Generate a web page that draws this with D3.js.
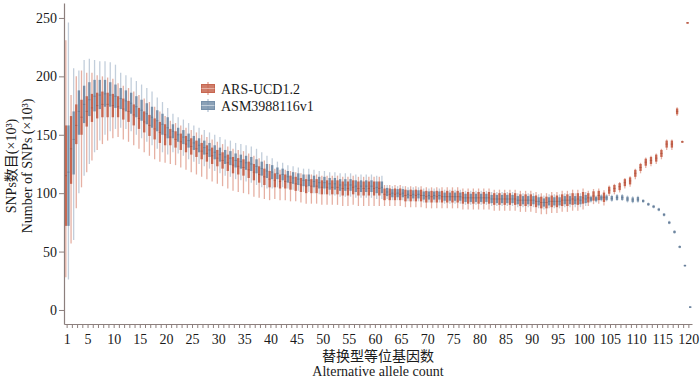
<!DOCTYPE html>
<html>
<head>
<meta charset="utf-8">
<script src="https://cdn.jsdelivr.net/npm/d3@7"></script>
<style>
  body { margin: 0; background: #fff; }
  text { font-family: "Liberation Serif", "Times New Roman", "Noto Sans CJK SC", serif; }
</style>
</head>
<body>
<svg id="chart" width="700" height="381"></svg>
<script>
// alternative allele count 1..120
const categories = d3.range(1, 121);
const xTickLabels = [1, 5, 10, 15, 20, 25, 30, 35, 40, 45, 50, 55, 60, 65, 70, 75, 80, 85, 90, 95, 100, 105, 110, 115, 120];
const yTicks = [0, 50, 100, 150, 200, 250];
const seriesNames = ["ARS-UCD1.2", "ASM3988116v1"];

// ARS-UCD1.2 (x10^3 SNPs): whisker low, Q1, median, Q3, whisker high
const arsLo = [28,57,87,105,118,128,137,142,145,147,
  148,146,144,141,138,135,132,129,127,126,
  125,124,122,120,118,116,114,112,110,108,
  106,104,102,101,100,99,97,96,95,94,
  95,94,94,93,93,92,91,91,91,90,
  90,90,90,89,89,90,89,89,89,89,
  89,89,89,89,89,88,88,88,88,87,
  87,87,87,87,87,87,86,86,86,86,
  86,86,85,85,85,85,85,84,84,84,
  83,82,82,83,83,84,84,85,85,86,
  89,90.6,91,89.5,97.5,99,100.6,104,105.5,112,
  117,121.5,123,125,129,137,137,166,143,245.5];
const arsQ1 = [72,108,142,150,157,161,164,165,165,165,
  165,163,161,158,155,152,149,146,143,141,
  141,139,137,135,133,131,129,127,125,123,
  121,119,117,116,115,113,111,109,107,105,
  105,104,104,103,102,101,100,100,100,99,
  99,99,99,98,98,99,98,98,98,98,
  98,94,94,94,94,93,93,93,93,92,
  92,92,92,92,92,92,91,91,91,91,
  91,91,90,90,90,90,90,89,89,89,
  88,87,87,88,88,89,89,90,90,91,
  92,93.6,94,92.5,99.5,101,102.6,106,107.5,114,
  119,123.5,125,127,131,139,139,167.5,143.5,245.7];
const arsMed = [115,138,158,165,170,173,175,176,176,175,
  174,172,170,167,164,161,158,155,152,150,
  148,146,144,142,140,138,136,134,132,130,
  128,126,124,123,122,120,118,116,114,112,
  111,110,110,109,108,107,106,106,106,105,
  105,105,105,104,104,105,104,104,104,104,
  104,99,99,99,99,98,98,98,98,97,
  97,97,97,97,97,97,96,96,96,96,
  96,96,95,95,95,95,95,94,94,94,
  93,92,92,93,93,94,94,95,95,96,
  96,97.6,98,96.5,102.5,104,105.6,109,110.5,117,
  122,126.5,128,130,134,142,142,170,144,246];
const arsQ3 = [158,166,176,180,183,185,186,187,186,185,
  183,181,179,176,173,170,167,164,161,159,
  155,153,151,149,147,145,143,141,139,137,
  135,133,131,130,129,127,125,123,121,119,
  117,116,116,115,114,113,112,112,112,111,
  111,111,111,110,110,111,110,110,110,110,
  110,104,104,104,104,103,103,103,103,102,
  102,102,102,102,102,102,101,101,101,101,
  101,101,100,100,100,100,100,99,99,99,
  98,97,97,98,98,99,99,100,100,101,
  100,101.6,102,100.5,105.5,107,108.6,112,113.5,120,
  125,129.5,131,133,137,145,145,172.5,144.5,246.3];
const arsHi = [231,184,200,205,203,203,201,200,199,198,
  194,192,190,187,184,181,178,174,170,166,
  162,160,158,156,154,152,150,148,146,144,
  142,140,138,137,136,134,132,130,128,125,
  121,120,120,119,118,117,116,116,116,115,
  115,115,115,114,114,115,114,114,114,114,
  114,107,107,107,107,106,106,106,106,105,
  105,105,105,105,105,105,104,104,104,104,
  104,104,103,103,103,103,103,102,102,102,
  101,100,100,101,101,102,102,103,103,104,
  102,103.6,104,102.5,106.5,108,109.6,113,114.5,121,
  126,130.5,132,134,138,146,146,173.5,145,246.5];

// ASM3988116v1
const asmLo = [26,60,100,115,125,135,145,150,153,155,
  156,155,153,150,147,144,141,138,135,133,
  135,134,132,129,127,125,123,121,119,117,
  115,114,112,111,110,109,107,105,104,104,
  105,105,104,103,102,101,101,100,99,99,
  98,98,97,97,97,96,96,96,96,95,
  95,95,94,94,94,93,93,93,92,92,
  92,92,91,91,91,91,90,90,90,90,
  90,89,89,89,89,89,88,88,88,88,
  87,86,87,87,87,88,88,88,88,89,
  92,92,93,93,92.6,93.2,93.2,92,91.3,91.8,
  91.8,89,87,84.5,80.1,73.3,65.3,52.8,37,2];
const asmQ1 = [72,116,150,160,166,170,172,174,174,173,
  172,170,168,165,162,159,156,153,150,147,
  147,144,142,139,137,135,133,131,129,127,
  125,124,122,121,120,119,117,115,113,112,
  112,111,109,108,107,106,106,105,104,104,
  103,103,102,102,102,101,101,101,101,100,
  100,97.5,96.5,96.5,96.5,95.5,95.5,95.5,94.5,94.5,
  94.5,94.5,93.5,93.5,93.5,93.5,92.5,92.5,92.5,92.5,
  92.5,91.5,91.5,91.5,91.5,91.5,90.5,90.5,90.5,90.5,
  89.5,88.5,89.5,89.5,89.5,90.5,90.5,90.5,90.5,91.5,
  93,93,94,94,93.6,94.2,94.2,93,92.3,92.8,
  92.3,89.5,87.5,85,80.6,73.8,65.8,53.2,37.4,2.2];
const asmMed = [118,146,170,176,180,183,184,185,184,183,
  181,179,177,174,171,168,165,162,159,156,
  153,150,148,145,143,141,139,137,135,133,
  131,130,128,127,126,125,123,121,119,118,
  117,116,114,113,112,111,111,110,109,109,
  108,108,107,107,107,106,106,106,106,105,
  105,101,100,100,100,99,99,99,98,98,
  98,98,97,97,97,97,96,96,96,96,
  96,95,95,95,95,95,94,94,94,94,
  93,92,93,93,93,94,94,94,94,95,
  95,95,96,96,95.6,96.2,96.2,95,94.3,94.8,
  93.3,90.5,88.5,86,81.6,74.8,66.8,54,38,2.6];
const asmQ3 = [158,170,188,192,195,197,197,197,195,193,
  190,188,186,183,180,177,174,171,168,165,
  159,156,154,151,149,147,145,143,141,139,
  137,136,134,133,132,131,129,127,125,124,
  122,121,119,118,117,116,116,115,114,114,
  113,113,112,112,112,111,111,111,111,110,
  110,104.5,103.5,103.5,103.5,102.5,102.5,102.5,101.5,101.5,
  101.5,101.5,100.5,100.5,100.5,100.5,99.5,99.5,99.5,99.5,
  99.5,98.5,98.5,98.5,98.5,98.5,97.5,97.5,97.5,97.5,
  96.5,95.5,96.5,96.5,96.5,97.5,97.5,97.5,97.5,98.5,
  97,97,98,98,97.6,98.2,98.2,97,96.3,96.8,
  94.3,91.5,89.5,87,82.6,75.8,67.8,54.8,38.6,3];
const asmHi = [246,207,205,214,215,214,213,213,212,210,
  203,201,199,196,193,190,187,182,178,173,
  168,165,163,160,158,156,154,152,150,148,
  146,145,143,142,141,140,138,135,132,130,
  127,126,124,123,122,121,121,120,119,119,
  118,118,117,117,117,116,116,116,116,115,
  115,107,106,106,106,105,105,105,104,104,
  104,104,103,103,103,103,102,102,102,102,
  102,101,101,101,101,101,100,100,100,100,
  99,98,99,99,99,100,100,100,100,101,
  98,98,99,99,98.6,99.2,99.2,98,97.3,97.8,
  94.8,92,90,87.5,83.1,76.3,68.3,55.5,39,3.2];

const series = [
  { name: seriesNames[0], lo: arsLo, q1: arsQ1, med: arsMed, q3: arsQ3, hi: arsHi,
    box: "#c76650", whisker: "#e6b0a3", median: "#a34b39" },
  { name: seriesNames[1], lo: asmLo, q1: asmQ1, med: asmMed, q3: asmQ3, hi: asmHi,
    box: "#7790aa", whisker: "#c2cedb", median: "#5d7189" }
];

const axisColor = "#8c7f7d";
const svg = d3.select("#chart");

const x = d3.scaleBand().domain(categories).range([64, 692]).paddingInner(0).paddingOuter(0.1);
const dodge = d3.scaleBand().domain(seriesNames).range([0, x.bandwidth()]).padding(0);
const y = d3.scaleLinear().domain([-12, 262.8]).range([324, 3]);
const boxW = dodge.bandwidth() * 0.88;

// boxes
series.forEach(s => {
  const g = svg.append("g").attr("class", "series");
  const cx = c => x(c) + dodge(s.name) + dodge.bandwidth() / 2;

  g.selectAll(".whisker")
    .data(categories)
    .enter()
    .append("line")
    .attr("class", "whisker")
    .attr("x1", cx)
    .attr("x2", cx)
    .attr("y1", (c, i) => y(s.hi[i]))
    .attr("y2", (c, i) => Math.max(y(s.lo[i]), y(s.hi[i]) + 1.5))
    .style("stroke", s.whisker)
    .style("stroke-width", 1.3);

  g.selectAll(".box")
    .data(categories)
    .enter()
    .append("rect")
    .attr("class", "box")
    .attr("x", c => cx(c) - boxW / 2)
    .attr("width", boxW)
    .attr("y", (c, i) => y(s.q3[i]))
    .attr("height", (c, i) => Math.max(y(s.q1[i]) - y(s.q3[i]), 1.5))
    .style("fill", s.box);

  g.selectAll(".median")
    .data(categories)
    .enter()
    .append("line")
    .attr("x1", c => cx(c) - boxW / 2)
    .attr("x2", c => cx(c) + boxW / 2)
    .attr("y1", (c, i) => y(s.med[i]))
    .attr("y2", (c, i) => y(s.med[i]))
    .style("stroke", s.median)
    .style("stroke-width", 0.6);
});

// axes
const yAxis = svg.append("g")
  .attr("transform", "translate(64,0)")
  .call(d3.axisLeft(y).tickValues(yTicks).tickSize(5).tickSizeOuter(0).tickPadding(2));

const xAxis = svg.append("g")
  .attr("transform", "translate(0,324)")
  .call(d3.axisBottom(x).tickValues(categories).tickSize(4).tickSizeOuter(0).tickPadding(6)
    .tickFormat(d => xTickLabels.includes(d) ? d : ""));

[yAxis, xAxis].forEach(a => {
  a.select(".domain").style("stroke", axisColor).style("stroke-width", 1.2);
  a.selectAll(".tick line").style("stroke", axisColor).style("stroke-width", 1);
  a.selectAll(".tick text")
    .style("font-size", "14px")
    .style("fill", "#1a1a1a")
    .style("font-family", '"Liberation Serif", serif');
});

// axis titles
svg.append("text")
  .attr("x", 378).attr("y", 361)
  .attr("text-anchor", "middle")
  .style("font-size", "14px")
  .style("fill", "#1a1a1a")
  .text("替换型等位基因数");

svg.append("text")
  .attr("x", 378).attr("y", 376)
  .attr("text-anchor", "middle")
  .style("font-size", "14px")
  .style("fill", "#1a1a1a")
  .text("Alternative allele count");

svg.append("text")
  .attr("transform", "translate(16,166) rotate(-90)")
  .attr("text-anchor", "middle")
  .style("font-size", "14px")
  .style("fill", "#1a1a1a")
  .text("SNPs数目(×10³)");

svg.append("text")
  .attr("transform", "translate(32,166) rotate(-90)")
  .attr("text-anchor", "middle")
  .style("font-size", "14px")
  .style("fill", "#1a1a1a")
  .text("Number of SNPs (×10³)");

// legend
const legend = svg.append("g").attr("transform", "translate(201,82)");
series.forEach((s, i) => {
  const row = legend.append("g").attr("transform", `translate(0,${i * 17})`);
  row.append("line")
    .attr("x1", 7).attr("x2", 7).attr("y1", 0).attr("y2", 13)
    .style("stroke", s.whisker).style("stroke-width", 1.6);
  row.append("rect")
    .attr("x", 0.5).attr("y", 2.5).attr("width", 13).attr("height", 8)
    .style("fill", s.box).style("fill-opacity", 0.85)
    .style("stroke", s.box).style("stroke-width", 1);
  row.append("line")
    .attr("x1", 0.5).attr("x2", 13.5).attr("y1", 6.5).attr("y2", 6.5)
    .style("stroke", s.whisker).style("stroke-width", 1);
  row.append("text")
    .attr("x", 20).attr("y", 11.5)
    .style("font-size", "14px")
    .style("fill", "#1a1a1a")
    .text(s.name);
});
</script>
</body>
</html>
